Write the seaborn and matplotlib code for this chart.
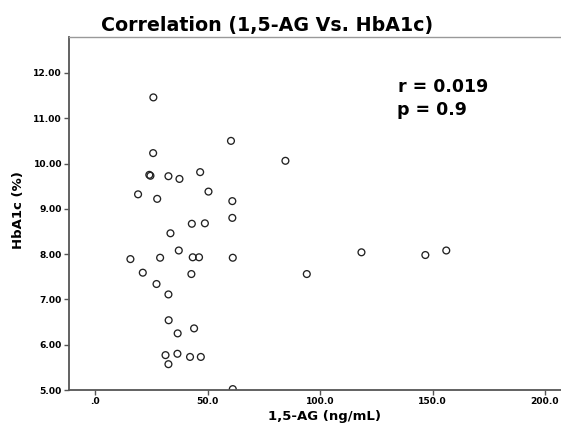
import pandas as pd
import seaborn as sns
import matplotlib.pyplot as plt

# values
ag = [25.9, 60.4, 25.8, 24.1, 24.6, 32.6, 37.5, 46.7, 50.4, 19.1,
      27.6, 61.0, 61.0, 43.0, 48.8, 33.5, 37.2, 15.7, 28.9, 43.4,
      46.2, 61.2, 21.2, 42.8, 27.3, 32.6, 32.7, 44.0, 36.7, 31.3,
      36.6, 42.2, 47.0, 32.6, 61.2, 84.6, 118.4, 146.8, 156.1, 94.1]
hba1c = [11.46, 10.50, 10.23, 9.75, 9.73, 9.72, 9.66, 9.81, 9.38, 9.32,
         9.22, 9.17, 8.80, 8.67, 8.68, 8.46, 8.08, 7.89, 7.92, 7.93,
         7.93, 7.92, 7.59, 7.56, 7.34, 7.11, 6.54, 6.36, 6.25, 5.77,
         5.80, 5.73, 5.73, 5.57, 5.02, 10.06, 8.04, 7.98, 8.08, 7.56]
x_ticks = [0, 50, 100, 150, 200]
x_labels = [".0", "50.0", "100.0", "150.0", "200.0"]
y_ticks = [5, 6, 7, 8, 9, 10, 11, 12]
y_labels = ["5.00", "6.00", "7.00", "8.00", "9.00", "10.00", "11.00", "12.00"]

df = pd.DataFrame({"AG": ag, "HbA1c": hba1c})

sns.set_style("ticks")
plt.rcParams["font.family"] = ["DejaVu Sans"]
plt.rcParams["text.color"] = "black"

fig = plt.figure(figsize=(5.61, 4.26), dpi=100)
ax = fig.add_axes([69 / 561, 1 - 390 / 426, 1 - 69 / 561, (390 - 36.7) / 426])

sns.scatterplot(data=df, x="AG", y="HbA1c", ax=ax, s=24, marker="o",
                facecolor="none", edgecolor="#222222", linewidth=0.95)

ax.set_xlim(-11.6, 207.1)
ax.set_ylim(5.0, 12.8)
ax.set_xticks(x_ticks)
ax.set_xticklabels(x_labels, fontsize=6.6, fontweight="bold")
ax.set_yticks(y_ticks)
ax.set_yticklabels(y_labels, fontsize=6.6, fontweight="bold")
ax.tick_params(length=3.5, width=1, color="#555555", labelcolor="black", pad=1.5)
ax.set_xlabel("")
ax.set_ylabel("")

for side in ["left", "bottom"]:
    ax.spines[side].set_color("#555555")
    ax.spines[side].set_linewidth(1.3)
ax.spines["top"].set_visible(True)
ax.spines["top"].set_color("#999999")
ax.spines["top"].set_linewidth(1.0)
ax.spines["right"].set_visible(False)

fig.text(267 / 561, 1 - 31 / 426, "Correlation (1,5-AG Vs. HbA1c)",
         ha="center", va="baseline", fontsize=13.7, fontweight="bold")
fig.text(324 / 561, 1 - 420 / 426, "1,5-AG (ng/mL)",
         ha="center", va="baseline", fontsize=9.5, fontweight="bold")
fig.text(19 / 561, 1 - 210 / 426, "HbA1c (%)", rotation=90,
         ha="center", va="center", fontsize=9.5, fontweight="bold")
fig.text(398 / 561, 1 - 92 / 426, "r = 0.019", ha="left", va="baseline",
         fontsize=12.5, fontweight="bold")
fig.text(397 / 561, 1 - 115 / 426, "p = 0.9", ha="left", va="baseline",
         fontsize=12.5, fontweight="bold")

fig.savefig("out.png", dpi=100)
